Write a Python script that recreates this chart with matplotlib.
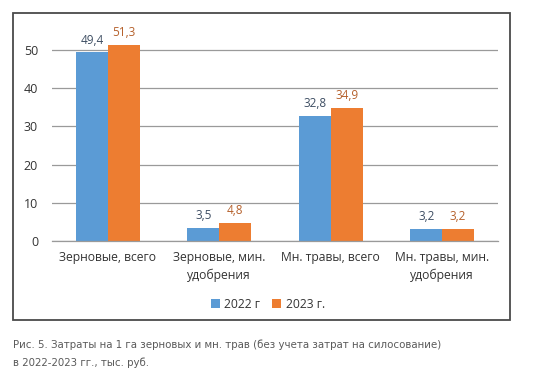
import matplotlib.pyplot as plt
import numpy as np
from matplotlib.patches import Rectangle

categories = ["Зерновые, всего", "Зерновые, мин.\nудобрения",
              "Мн. травы, всего", "Мн. травы, мин.\nудобрения"]
vals_2022 = [49.4, 3.5, 32.8, 3.2]
vals_2023 = [51.3, 4.8, 34.9, 3.2]
series_labels = ["2022 г", "2023 г."]
yticks = [0, 10, 20, 30, 40, 50]

plt.rcParams['font.family'] = ['Open Sans', 'DejaVu Sans']

blue = "#5B9BD5"
orange = "#ED7D31"

fig = plt.figure(figsize=(5.46, 3.84), dpi=100)
ax = fig.add_axes([52 / 546, 1 - 241 / 384, 446 / 546, 214 / 384])

x = np.arange(len(categories))
w = 0.285
b1 = ax.bar(x - w / 2, vals_2022, w, color=blue, label=series_labels[0])
b2 = ax.bar(x + w / 2, vals_2023, w, color=orange, label=series_labels[1])

for bars, vals, col in [(b1, vals_2022, "#3E4E63"), (b2, vals_2023, "#B5602B")]:
    for rect, v in zip(bars, vals):
        ax.annotate(f"{v:.1f}".replace(".", ","),
                    (rect.get_x() + rect.get_width() / 2, rect.get_height()),
                    xytext=(0, 4), textcoords="offset points",
                    ha="center", va="bottom", fontsize=8.5, color=col)

ax.set_xlim(-0.5, len(categories) - 0.5)
ax.set_ylim(0, 56)
ax.set_yticks(yticks)
ax.set_xticks(x)
ax.set_xticklabels(categories, fontsize=8.7, color="#333333", linespacing=1.5)
ax.tick_params(axis="y", length=0, pad=10, labelsize=9, labelcolor="#333333")
ax.tick_params(axis="x", length=0, pad=7)
ax.yaxis.grid(True, color="#9A9A9A", linewidth=0.9)
ax.set_axisbelow(True)
for s in ["top", "right", "left"]:
    ax.spines[s].set_visible(False)
ax.spines["bottom"].set_color("#9A9A9A")
ax.spines["bottom"].set_linewidth(0.9)

fig.legend(handles=[b1, b2], labels=series_labels, loc="center",
           bbox_to_anchor=(268 / 546, 1 - 304 / 384), ncol=2, frameon=False,
           fontsize=8.7, handlelength=0.7, handleheight=0.7, handletextpad=0.4,
           columnspacing=1.0, labelcolor="#333333")

fig.patches.append(Rectangle((13 / 546, 1 - 320 / 384), 497 / 546, 307 / 384,
                             transform=fig.transFigure, fill=False,
                             edgecolor="#4A4A4A", linewidth=1.3))

cap1 = fig.text(13 / 546, 1 - 345 / 384,
                "Рис. 5. Затраты на 1 га зерновых и мн. трав (без учета затрат на силосование)",
                fontsize=8.2, color="#5A5A5A", va="center", ha="left",
                family=['DejaVu Sans'], fontstretch='condensed')
cap2 = fig.text(13 / 546, 1 - 363 / 384, "в 2022-2023 гг., тыс. руб.",
                fontsize=8.2, color="#5A5A5A", va="center", ha="left",
                family=['DejaVu Sans'], fontstretch='condensed')

fig.savefig("out.png", dpi=100)
